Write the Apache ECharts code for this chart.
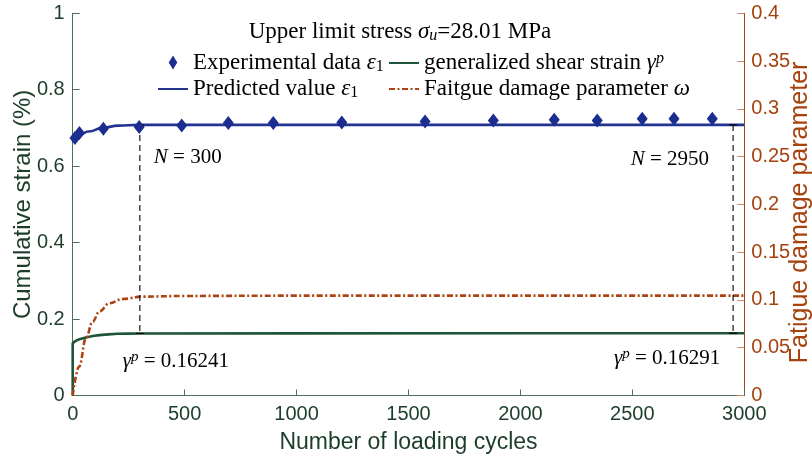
<!DOCTYPE html>
<html>
<head>
<meta charset="utf-8">
<script src="https://cdn.jsdelivr.net/npm/echarts@6/dist/echarts.min.js"></script>
<style>
  html, body { margin: 0; padding: 0; background: #fff; }
  #chart { width: 812px; height: 460px; }
</style>
</head>
<body>
<div id="chart"></div>
<script>
// Measured axial strain ε1 (%) against loading cycles
const expCycles = [10, 30, 137, 297, 487, 695, 896, 1202, 1574, 1879, 2151, 2343, 2544, 2686, 2857];
const expStrain = [0.6735, 0.6866, 0.698, 0.7025, 0.7067, 0.713, 0.713, 0.7145, 0.717, 0.7198, 0.7216, 0.7198, 0.724, 0.724, 0.724];

// Model prediction of ε1 (%)
const predCycles = [0, 10, 30, 70, 137, 204, 296, 500, 1000, 2000, 3000];
const predStrain = [0.666, 0.673, 0.682, 0.6906, 0.701, 0.706, 0.708, 0.708, 0.708, 0.708, 0.708];

// Generalized shear strain γp (%)
const shearCycles = [0, 0, 15, 30, 59, 90, 119, 160, 200, 250, 300, 1000, 2000, 2950, 3000];
const shearStrain = [0, 0.137, 0.1435, 0.147, 0.152, 0.1555, 0.158, 0.160, 0.1615, 0.162, 0.16241, 0.1626, 0.1628, 0.16291, 0.1629];

// Fatigue damage parameter ω (right axis)
const damageCycles = [0, 29, 59, 89, 119, 163, 223, 313, 500, 1000, 3000];
const damageValue = [0, 0.0302, 0.0599, 0.0773, 0.0878, 0.0965, 0.101, 0.1035, 0.1042, 0.1045, 0.1045];

// Reference cycles with dashed guides between ε1 and γp
const refCycles = [300, 2950];
const refStrain = [0.708, 0.708];
const refShear = [0.16241, 0.16291];

const SERIF = '"Liberation Serif", "Times New Roman", serif';
const SANS = '"Liberation Sans", Arial, Helvetica, sans-serif';

const C_EXP = '#1b2d8f';
const C_PRED = '#22348f';
const C_SHEAR = '#1e553a';
const C_DAMAGE = '#ad4311';
const C_LEFT = '#1b3d2a';
const C_LEFT_LINE = '#4f6f5d';
const C_RIGHT = '#a5420e';

function mathRich(size, color) {
  const sub = Math.round(size * 0.7);
  return {
    t: { fontFamily: SERIF, fontSize: size, lineHeight: 24, color: color },
    m: { fontFamily: SERIF, fontStyle: 'italic', fontSize: size, lineHeight: 24, color: color },
    sub: { fontFamily: SERIF, fontSize: sub, verticalAlign: 'bottom', color: color },
    subi: { fontFamily: SERIF, fontStyle: 'italic', fontSize: sub, verticalAlign: 'bottom', color: color },
    supi: { fontFamily: SERIF, fontStyle: 'italic', fontSize: sub, verticalAlign: 'top', color: color }
  };
}

const legendText = {
  'Experimental data': '{t|Experimental data }{m|ε}{sub|1}',
  'Predicted value': '{t|Predicted value }{m|ε}{sub|1}',
  'generalized shear strain': '{t|generalized shear strain }{m|γ}{supi|p}',
  'Faitgue damage parameter': '{t|Faitgue damage parameter }{m|ω}'
};

const zip = (xs, ys) => xs.map((x, i) => [x, ys[i]]);

function legendBlock(left, items) {
  return {
    orient: 'vertical',
    left: left,
    top: 51,
    itemWidth: 30,
    itemHeight: 14,
    itemGap: 3,
    padding: 0,
    data: items,
    // line entries show only their stroke, no point marker
    itemStyle: { opacity: 0 },
    formatter: name => legendText[name],
    textStyle: { fontFamily: SERIF, fontSize: 23, color: '#000', rich: mathRich(23, '#000') }
  };
}

function refSeries(k) {
  const x = refCycles[k];
  const leftSide = k === 1;
  return {
    type: 'line',
    name: 'ref' + k,
    data: [
      {
        value: [x, refStrain[k]],
        label: {
          show: true,
          position: leftSide ? 'left' : 'right',
          distance: 4,
          offset: leftSide ? [-16, 35] : [6, 33],
          formatter: '{m|N}{t| = ' + x + '}',
          rich: mathRich(21, '#000')
        }
      },
      {
        value: [x, refShear[k]],
        label: {
          show: true,
          position: 'inside',
          offset: leftSide ? [-66, 25] : [36, 28],
          formatter: '{m|γ}{supi|p}{t| = ' + refShear[k].toFixed(5) + '}',
          rich: mathRich(21, '#000')
        }
      }
    ],
    symbol: 'rect',
    symbolSize: [8, 1.2],
    showSymbol: true,
    itemStyle: { color: '#000' },
    lineStyle: { color: '#000', width: 1.1, type: [6, 4] },
    z: 3,
    silent: true
  };
}

const chart = echarts.init(document.getElementById('chart'), null, { renderer: 'canvas' });

chart.setOption({
  animation: false,
  backgroundColor: '#fff',
  title: {
    text: '{t|Upper limit stress }{m|σ}{subi|u}{t|=28.01 MPa}',
    left: 400,
    top: 20,
    textAlign: 'center',
    padding: 0,
    textStyle: { fontFamily: SERIF, fontSize: 23, fontWeight: 'normal', color: '#000', rich: mathRich(23, '#000') }
  },
  legend: [
    legendBlock(157, [
      { name: 'Experimental data', icon: 'path://M4,0L8,6.5L4,13L0,6.5Z', itemStyle: { opacity: 1, color: C_EXP } },
      { name: 'Predicted value' }
    ]),
    legendBlock(388, [
      { name: 'generalized shear strain' },
      { name: 'Faitgue damage parameter' }
    ])
  ],
  grid: {
    left: 72.7,
    right: 67.7,
    top: 13.3,
    bottom: 64.5,
    containLabel: false,
    outerBoundsMode: 'none'
  },
  xAxis: {
    type: 'value',
    min: 0,
    max: 3000,
    interval: 500,
    name: 'Number of loading cycles',
    nameLocation: 'middle',
    nameGap: 36,
    nameMoveOverlap: false,
    nameTextStyle: { fontFamily: SANS, fontSize: 23, color: C_LEFT },
    axisLine: { show: true, lineStyle: { color: C_LEFT_LINE, width: 1 } },
    axisTick: { show: true, inside: true, length: 6, lineStyle: { color: C_LEFT_LINE } },
    axisLabel: { fontFamily: SANS, fontSize: 20, color: C_LEFT, margin: 9, formatter: v => String(v) },
    splitLine: { show: false }
  },
  yAxis: [
    {
      type: 'value',
      min: 0,
      max: 1,
      interval: 0.2,
      name: 'Cumulative strain (%)',
      nameLocation: 'middle',
      nameGap: 37,
      nameRotate: 90,
      nameMoveOverlap: false,
      nameTextStyle: { fontFamily: SANS, fontSize: 24, color: C_LEFT },
      axisLine: { show: true, lineStyle: { color: C_LEFT_LINE, width: 1 } },
      axisTick: { show: true, inside: true, length: 7, lineStyle: { color: C_LEFT_LINE } },
      axisLabel: { fontFamily: SANS, fontSize: 20, color: C_LEFT, margin: 8 },
      splitLine: { show: false }
    },
    {
      type: 'value',
      position: 'right',
      min: 0,
      max: 0.4,
      interval: 0.05,
      name: 'Fatigue damage parameter',
      nameLocation: 'middle',
      nameGap: 43,
      nameRotate: 90,
      nameMoveOverlap: false,
      nameTextStyle: { fontFamily: SANS, fontSize: 25, color: C_RIGHT, padding: [0, 16, 0, 0] },
      axisLine: { show: true, lineStyle: { color: C_RIGHT, width: 1 } },
      axisTick: { show: true, inside: true, length: 7, lineStyle: { color: '#c98a6a' } },
      axisLabel: { fontFamily: SANS, fontSize: 20, color: C_RIGHT, margin: 7 },
      splitLine: { show: false }
    }
  ],
  series: [
    {
      type: 'line',
      name: 'Predicted value',
      data: zip(predCycles, predStrain),
      smooth: 0.5,
      smoothMonotone: 'x',
      symbol: 'none',
      showSymbol: false,
      lineStyle: { color: C_PRED, width: 2.6 },
      itemStyle: { color: C_PRED },
      z: 2
    },
    {
      type: 'scatter',
      name: 'Experimental data',
      data: zip(expCycles, expStrain),
      symbol: 'diamond',
      symbolSize: [11, 14],
      itemStyle: { color: C_EXP, opacity: 1 },
      z: 5
    },
    {
      type: 'line',
      name: 'generalized shear strain',
      data: zip(shearCycles, shearStrain),
      symbol: 'none',
      showSymbol: false,
      lineStyle: { color: C_SHEAR, width: 2.6 },
      itemStyle: { color: C_SHEAR },
      z: 2
    },
    {
      type: 'line',
      name: 'Faitgue damage parameter',
      yAxisIndex: 1,
      data: zip(damageCycles, damageValue),
      smooth: 0.4,
      smoothMonotone: 'x',
      symbol: 'none',
      showSymbol: false,
      lineStyle: { color: C_DAMAGE, width: 2.6, type: [6, 2.5, 2, 2.5] },
      itemStyle: { color: C_DAMAGE },
      z: 2
    },
    refSeries(0),
    refSeries(1)
  ]
});
</script>
</body>
</html>
